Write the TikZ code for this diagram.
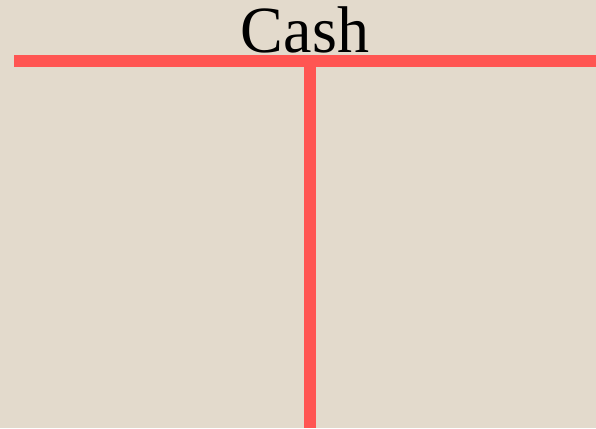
\documentclass[tikz,border=0pt]{standalone}
\usepackage{fontspec}
\setmainfont{Liberation Serif}
\usetikzlibrary{positioning}
\definecolor{mPaper}{HTML}{E3DACC}
\definecolor{mRed}{HTML}{FF5552}
\tikzset{
  ttitle/.style={anchor=base, inner sep=0pt, xscale=0.97,
                 font=\fontsize{66}{66}\selectfont},
  tline/.style={mRed, line width=11.8pt},
}
\begin{document}
\begin{tikzpicture}[x=1pt, y=1pt]
    \fill[mPaper] (0,0) rectangle (596,428);
    \useasboundingbox (0,0) rectangle (596,428);
    \node[ttitle] (title) at (305,375.5) {Cash};
    \coordinate (hl) at (14,367.3);
    \coordinate (hr) at (596,367.3);
    \coordinate (vt) at (309.7,367.3);
    \coordinate (vb) at (309.7,0);
    \draw[tline] (hl) -- (hr);
    \draw[tline] (vt) -- (vb);
  \end{tikzpicture}
\end{document}
